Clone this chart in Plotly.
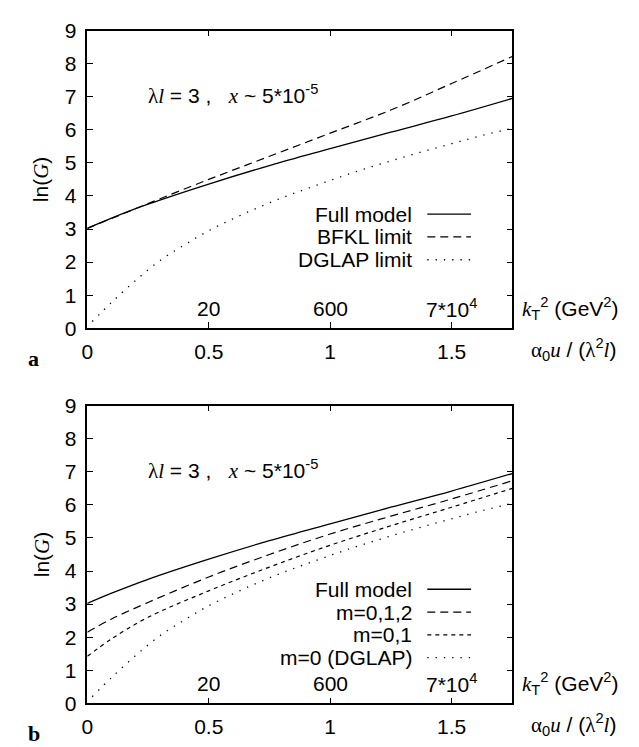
import plotly.graph_objects as go

# ---------------- data ----------------
x_main = [0, 0.1, 0.25, 0.5, 0.75, 1.0, 1.25, 1.5, 1.75]
full_model = [3.02, 3.33, 3.75, 4.36, 4.92, 5.43, 5.93, 6.42, 6.95]
bfkl_limit = [3.02, 3.32, 3.77, 4.50, 5.20, 5.90, 6.60, 7.40, 8.22]
m012 = [2.15, 2.55, 3.05, 3.82, 4.50, 5.12, 5.66, 6.18, 6.73]
m01 = [1.42, 1.95, 2.60, 3.40, 4.12, 4.78, 5.37, 5.93, 6.50]

x_dglap = [0.02, 0.1, 0.2, 0.3, 0.4, 0.5, 0.6, 0.7, 0.8, 0.9, 1.0,
           1.1, 1.2, 1.3, 1.4, 1.5, 1.6, 1.75]
dglap = [0.2, 0.78, 1.45, 2.05, 2.52, 2.95, 3.31, 3.64, 3.94, 4.21, 4.47,
         4.72, 4.95, 5.17, 5.38, 5.58, 5.78, 6.05]

x_ticks = [0, 0.5, 1, 1.5]
x_ticklabels = ["0", "0.5", "1", "1.5"]
y_ticks = list(range(10))
kt_positions = [0.5, 1.0, 1.5]
kt_labels = ["20", "600", "7*10<sup>4</sup>"]

top_legend = ["Full model", "BFKL limit", "DGLAP limit"]
bottom_legend = ["Full model", "m=0,1,2", "m=0,1", "m=0 (DGLAP)"]

# ---------------- layout geometry ----------------
W, H = 639, 747
SANS = "Liberation Sans, Arial, sans-serif"
SERIF = "Liberation Serif, Times New Roman, serif"
FS = 21

def px(x):
    return x / W

def py(y):
    return 1 - y / H

X0, X1 = 74, 503
panels = [(11, 318), (398, 705)]

SOLID = dict(color="black", width=1.3, dash="solid")
LDASH = dict(color="black", width=1.2, dash="8px,5px")
SDASH = dict(color="black", width=1.2, dash="4px,4px")
DOT = dict(color="black", width=1.3, dash="1.3px,7px")

fig = go.Figure()

top_series = [(x_main, full_model, SOLID), (x_main, bfkl_limit, LDASH),
              (x_dglap, dglap, DOT)]
bot_series = [(x_main, full_model, SOLID), (x_main, m012, LDASH),
              (x_main, m01, SDASH), (x_dglap, dglap, DOT)]

for xs, ys, ln in top_series:
    fig.add_trace(go.Scatter(x=xs, y=ys, mode="lines", line=dict(shape="spline", **ln),
                             xaxis="x", yaxis="y", showlegend=False, hoverinfo="skip"))
for xs, ys, ln in bot_series:
    fig.add_trace(go.Scatter(x=xs, y=ys, mode="lines", line=dict(shape="spline", **ln),
                             xaxis="x2", yaxis="y2", showlegend=False, hoverinfo="skip"))

axis_common = dict(showline=True, linecolor="black", linewidth=1.5, mirror="ticks",
                   ticks="inside", ticklen=6, tickwidth=1.2, tickcolor="black",
                   showgrid=False, zeroline=False,
                   tickfont=dict(family=SANS, size=FS, color="black"))

layout = dict(width=W, height=H, margin=dict(l=0, r=0, t=0, b=0),
              paper_bgcolor="white", plot_bgcolor="white", showlegend=False)
for i, (yt, yb) in enumerate(panels):
    sfx = "" if i == 0 else str(i + 1)
    layout["xaxis" + sfx] = dict(axis_common, domain=[px(X0), px(X1)], range=[0, 1.75],
                                 tickvals=x_ticks, ticktext=x_ticklabels,
                                 anchor="y" + sfx, ticklabelstandoff=4)
    layout["yaxis" + sfx] = dict(axis_common, domain=[py(yb), py(yt)], range=[0, 9],
                                 tickvals=y_ticks, anchor="x" + sfx, ticklabelstandoff=5)
fig.update_layout(**layout)

ann = []
shapes = []

def serif(t, italic=False):
    s = f'<span style="font-family:{SERIF}">{t}</span>'
    return f"<i>{s}</i>" if italic else s

label_text = (serif("λ") + serif("l", True) + " = 3 ,   " + serif("x", True)
              + " ~ 5*10<sup>-5</sup>")
xlab = serif("α") + "<sub>0</sub>" + serif("u", True) + " / (" + serif("λ") + "<sup>2</sup>" + serif("l", True) + ")"
ktlab = serif("k", True) + "<sub>T</sub><sup>2</sup> (GeV<sup>2</sup>)"
ylab = "ln(" + serif("G", True) + ")"

for i, (yt, yb) in enumerate(panels):
    sfx = "" if i == 0 else str(i + 1)
    xr, yr = "x" + sfx, "y" + sfx
    f = dict(family=SANS, size=FS, color="black")
    ann.append(dict(x=0.6, y=7.07, xref=xr, yref=yr, text=label_text, showarrow=False,
                    font=f, xanchor="center", yanchor="middle"))
    for xv, t in zip(kt_positions, kt_labels):
        ann.append(dict(x=xv, y=0.6, xref=xr, yref=yr, text=t, showarrow=False,
                        font=f, xanchor="center", yanchor="middle"))
    ann.append(dict(x=px(511), y=py(yb - 20), xref="paper", yref="paper", text=ktlab,
                    showarrow=False, font=f, xanchor="left", yanchor="middle"))
    ann.append(dict(x=px(520), y=py(yb + 22), xref="paper", yref="paper", text=xlab,
                    showarrow=False, font=f, xanchor="left", yanchor="middle"))
    ann.append(dict(x=px(28), y=py((yt + yb) / 2), xref="paper", yref="paper", text=ylab,
                    showarrow=False, font=f, textangle=-90, xanchor="center", yanchor="middle"))
    ann.append(dict(x=px(20), y=py(yb + 31), xref="paper", yref="paper",
                    text="<b>" + ("a" if i == 0 else "b") + "</b>", showarrow=False,
                    font=dict(family=SERIF, size=22, color="black"),
                    xanchor="center", yanchor="middle"))

    names = top_legend if i == 0 else bottom_legend
    styles = [SOLID, LDASH, DOT] if i == 0 else [SOLID, LDASH, SDASH, DOT]
    row0 = 3.45
    for k, (nm, st) in enumerate(zip(names, styles)):
        yv = row0 - 0.69 * k
        ann.append(dict(x=1.345, y=yv, xref=xr, yref=yr, text=nm, showarrow=False,
                        font=f, xanchor="right", yanchor="middle"))
        shapes.append(dict(type="line", xref=xr, yref=yr, x0=1.40, x1=1.58, y0=yv, y1=yv,
                           line=st))

fig.update_layout(annotations=ann, shapes=shapes)
fig.write_html("out.html")
